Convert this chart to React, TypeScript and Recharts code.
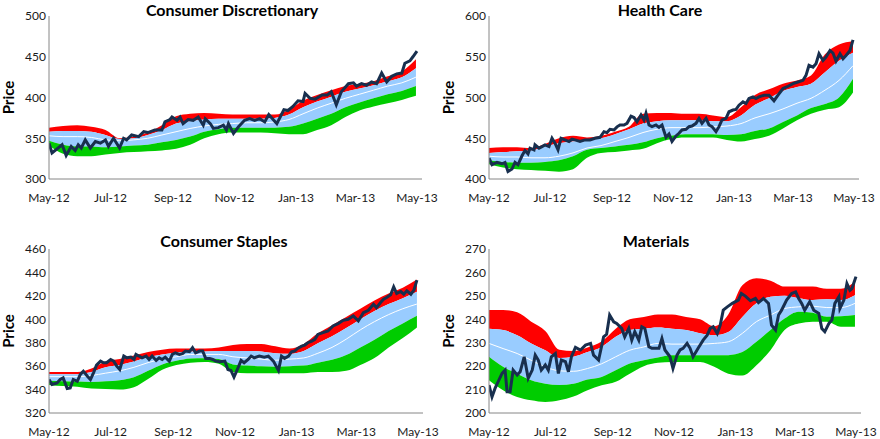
import { Area, ComposedChart, Line, XAxis, YAxis } from "recharts";

// x values are days counted from 1 May 2012
const bandDays = [0, 14, 28, 42, 56, 70, 84, 98, 112, 126, 140, 154, 168, 182, 196, 210, 224, 238, 252, 266, 280, 294, 308, 322, 336, 350, 364];
const tickDays = [0, 61, 123, 184, 245, 304, 365];
const tickLabels = ["May-12", "Jul-12", "Sep-12", "Nov-12", "Jan-13", "Mar-13", "May-13"];

// Consumer Discretionary
const cdUp2 = [363, 365, 366, 364, 360, 350, 352, 357, 366, 377, 380, 381, 380, 379, 379, 379, 379, 385, 396, 403, 409, 414, 417, 420, 426, 432, 447];
const cdUp1 = [358, 359, 359, 358, 354, 349, 350, 354, 360, 368, 371, 373, 374, 374, 374, 374, 375, 379, 388, 395, 401, 407, 411, 415, 420, 425, 436];
const cdMid = [353, 352, 352, 351, 348, 347, 348, 350, 354, 358, 362, 365, 367, 368, 369, 369, 370, 373, 380, 387, 393, 399, 404, 409, 414, 418, 425];
const cdLo1 = [347, 342, 340, 340, 339, 340, 341, 342, 345, 348, 352, 358, 361, 363, 363, 363, 363, 364, 368, 374, 380, 388, 394, 399, 404, 408, 414];
const cdLo2 = [341, 331, 328, 328, 330, 332, 333, 334, 335, 337, 342, 350, 355, 357, 357, 357, 356, 355, 355, 360, 366, 376, 384, 389, 393, 397, 402];
const cdPriceDays = [0, 3, 13, 17, 22, 26, 29, 32, 36, 41, 46, 51, 56, 59, 64, 70, 74, 77, 82, 89, 94, 98, 105, 112, 115, 120, 122, 127, 130, 133, 138, 143, 148, 153, 155, 160, 163, 168, 173, 176, 178, 183, 188, 194, 199, 204, 209, 214, 218, 223, 226, 233, 237, 242, 247, 252, 254, 259, 264, 271, 276, 280, 285, 290, 297, 302, 305, 310, 315, 320, 325, 330, 335, 340, 345, 350, 353, 358, 361, 365];
const cdPrice = [344, 332, 342, 329, 340, 335, 342, 338, 348, 338, 346, 344, 348, 340, 350, 338, 350, 348, 354, 352, 358, 357, 360, 360, 370, 373, 376, 372, 376, 368, 373, 372, 376, 366, 374, 368, 362, 363, 366, 360, 368, 356, 364, 372, 374, 372, 374, 370, 379, 372, 368, 385, 384, 389, 396, 395, 405, 399, 398, 403, 403, 407, 391, 407, 417, 418, 414, 417, 415, 419, 417, 430, 419, 426, 429, 430, 442, 445, 450, 457];

// Health Care
const hcUp2 = [438, 439, 439, 438, 443, 450, 453, 451, 453, 458, 464, 480, 481, 481, 480, 480, 478, 476, 488, 503, 510, 517, 521, 527, 553, 565, 569];
const hcUp1 = [432, 433, 434, 435, 440, 444, 446, 448, 450, 455, 461, 468, 471, 472, 472, 472, 471, 471, 478, 491, 499, 508, 513, 517, 531, 545, 555];
const hcMid = [428, 427, 427, 426, 426, 428, 432, 438, 441, 446, 451, 457, 461, 463, 463, 463, 464, 465, 468, 475, 480, 486, 493, 499, 509, 521, 539];
const hcLo1 = [423, 421, 420, 420, 421, 423, 428, 436, 438, 440, 442, 445, 450, 453, 455, 455, 455, 454, 455, 459, 462, 470, 478, 487, 492, 500, 523];
const hcLo2 = [418, 414, 412, 411, 410, 409, 412, 426, 432, 433, 435, 437, 444, 449, 451, 451, 451, 448, 446, 449, 453, 462, 472, 480, 485, 488, 506];
const hcPriceDays = [0, 3, 8, 13, 16, 19, 23, 26, 29, 33, 36, 39, 41, 45, 46, 50, 53, 56, 60, 63, 66, 69, 72, 76, 80, 83, 86, 91, 96, 101, 106, 111, 115, 118, 121, 125, 128, 131, 135, 138, 142, 145, 148, 152, 155, 157, 160, 163, 167, 170, 173, 177, 180, 183, 187, 190, 193, 197, 200, 203, 207, 210, 213, 217, 220, 223, 227, 230, 233, 237, 240, 244, 247, 250, 254, 257, 260, 264, 267, 270, 275, 280, 285, 289, 294, 299, 304, 309, 314, 317, 320, 324, 327, 330, 334, 337, 341, 344, 347, 351, 354, 357, 361, 364];
const hcPrice = [425.6, 417.5, 420.3, 418.7, 420.3, 409.3, 412.2, 420.3, 417.5, 428.5, 435, 430.9, 437.8, 435.8, 441.9, 437.8, 439.8, 441.9, 439.8, 450, 443.9, 435.8, 450, 448, 446, 448.8, 448, 446, 448, 448, 450, 451.2, 458, 456.9, 461, 460.2, 464, 466.3, 466.3, 468.3, 477, 475.4, 470.3, 478.5, 472.4, 480.5, 466.3, 464.2, 466.3, 463.4, 466.3, 451.2, 455.3, 446, 452.8, 456.1, 460.2, 461, 464.2, 465, 468.3, 474.4, 468.3, 474.4, 466.3, 464.2, 458, 464.2, 472.4, 474.4, 482.5, 484.6, 485.4, 490.6, 494.7, 492.7, 498.8, 500.8, 498.8, 500.8, 502.8, 502.8, 496, 502.8, 511, 513.8, 517, 519, 521.1, 527.2, 539.4, 537.3, 541.5, 553.7, 545.5, 549.6, 557.7, 554.5, 544.7, 553.7, 547.6, 551.6, 557.7, 570.7];

// Consumer Staples
const csUp2 = [355, 355, 355, 358, 364, 366, 369, 372, 374, 375, 375, 375, 376, 378, 379, 379, 377, 375, 379, 388, 395, 402, 409, 416, 422, 427, 434];
const csUp1 = [353, 353, 353, 355, 359, 361, 364, 367.5, 370, 371.5, 372.5, 372.5, 373, 373, 373, 372.5, 371, 370.5, 373, 379.5, 385.5, 392.5, 400, 407, 413, 418, 423.5];
const csMid = [351, 351, 351, 352, 354, 356, 359, 363, 366, 368, 370, 370, 370, 368, 367, 366, 365, 366, 367, 371, 376, 383, 391, 398, 404, 409, 413];
const csLo1 = [347.5, 347, 346.8, 346.5, 347, 348, 350.5, 356, 361.5, 364.5, 366.5, 366.8, 366, 361.5, 360.5, 360, 359.5, 360, 360.5, 363, 365.5, 369.5, 376, 382.5, 390, 396.5, 403];
const csLo2 = [344, 343, 342.5, 341, 340.5, 340, 342, 349, 357, 361, 363, 363.5, 362, 355, 354, 354, 354, 354, 354, 355, 355, 356, 361, 367, 376, 384, 393];
const csPriceDays = [0, 3, 8, 11, 14, 18, 21, 24, 28, 31, 34, 38, 41, 44, 47, 51, 54, 57, 61, 64, 67, 70, 74, 77, 81, 84, 86, 89, 92, 96, 99, 102, 106, 109, 112, 115, 119, 122, 125, 129, 132, 135, 139, 142, 145, 149, 152, 155, 159, 162, 165, 169, 174, 177, 180, 183, 187, 190, 193, 197, 200, 203, 208, 213, 217, 222, 227, 230, 233, 237, 240, 243, 246, 250, 253, 256, 260, 263, 266, 271, 276, 281, 286, 291, 296, 301, 306, 311, 316, 321, 324, 328, 331, 334, 338, 341, 344, 348, 351, 354, 358, 361, 364];
const csPrice = [348.6, 344.3, 345.7, 348.6, 350, 340.9, 341.4, 348.6, 347.1, 352.9, 355.7, 351.4, 348.6, 354.3, 360.9, 364.3, 362.9, 362.9, 365.7, 364.3, 360, 357.1, 368.6, 367.1, 367.7, 365.7, 370, 368.6, 367.1, 368.6, 365.7, 368.6, 364.9, 367.1, 365.7, 367.7, 364.3, 370, 371.4, 370, 370.6, 372.9, 372.3, 375.7, 371.4, 372.9, 372.9, 366.6, 366.6, 365.7, 364.3, 363.7, 364.3, 357.1, 356.3, 350.6, 358.6, 364.9, 362.9, 365.7, 368.6, 367.1, 368.6, 367.7, 368.6, 364.3, 356.3, 368.6, 366.6, 368.6, 372.3, 372.9, 375.1, 377.1, 378, 380, 381.4, 382.9, 387.1, 388.6, 390, 394.3, 396.3, 399.1, 400, 402.9, 398.6, 405.7, 407.7, 412.9, 410, 414.3, 417.1, 418.6, 420.9, 427.7, 422, 423.7, 421.4, 424.3, 421.4, 424.9, 433.4];

// Materials
const maUp2 = [244, 244, 243, 239, 235, 227, 226.5, 228, 230.5, 236, 240, 241, 242, 242, 241, 240, 237, 242, 254.5, 257.5, 256.5, 254, 254, 254, 253, 253, 256];
const maUp1 = [236, 235.4, 233.2, 229.7, 226.8, 223.5, 224, 226, 228.2, 232.5, 235.4, 236, 236.5, 236, 235.4, 234, 233.2, 234.6, 241, 246.8, 249.6, 250, 249, 248.2, 248.5, 248.2, 250.3];
const maMid = [229.7, 227.5, 225.4, 222.5, 219.7, 218, 217.8, 219, 221, 224, 226.8, 228.2, 229.7, 229.4, 229.4, 229.4, 229.7, 230.4, 234, 239, 241.8, 244.6, 245.3, 245.6, 245, 245, 246.8];
const maLo1 = [224, 219.7, 216.8, 214, 212.5, 212, 212.5, 214.3, 215.4, 218.2, 221.1, 222.5, 223.7, 224.7, 224.7, 224.7, 224.7, 224.7, 226, 230.4, 235.4, 240.3, 243.2, 242.8, 241.1, 241.3, 241.8];
const maLo2 = [214, 209.7, 206.8, 205.4, 204.7, 205.4, 207, 209.7, 211.8, 213.3, 216.8, 220, 221.4, 221.8, 221.8, 221.8, 219.7, 216.8, 216, 220.4, 226.8, 235.4, 238.2, 238.9, 238.9, 236.8, 236.8];
const maPriceDays = [0, 3, 6, 9, 13, 16, 18, 21, 24, 28, 31, 35, 39, 43, 46, 49, 52, 56, 59, 62, 66, 69, 72, 76, 79, 82, 86, 91, 96, 101, 104, 109, 114, 117, 120, 124, 127, 132, 135, 139, 142, 145, 149, 152, 155, 159, 162, 165, 169, 172, 175, 180, 183, 187, 190, 193, 197, 200, 203, 208, 213, 217, 220, 223, 227, 230, 233, 237, 242, 248, 251, 255, 260, 265, 268, 273, 278, 281, 285, 288, 291, 296, 301, 305, 308, 311, 314, 319, 323, 328, 331, 334, 338, 341, 344, 348, 349, 353, 356, 359, 361, 365];
const maPrice = [211.9, 206.9, 210.5, 213.3, 216.9, 218.3, 209.1, 209.1, 218.3, 216.2, 217.6, 224, 214.8, 218.3, 224.7, 222.6, 218.3, 220.5, 218.3, 224, 225.4, 216.9, 222.6, 221.9, 217.6, 224, 228, 226.9, 229, 229.7, 224.7, 222.6, 232.5, 233.6, 241.8, 238.9, 238.2, 236.1, 232.5, 236.1, 231.1, 234.7, 231.1, 236.8, 236.1, 228.3, 227.6, 227.6, 227.6, 231.8, 226.9, 224, 219, 224.7, 226.9, 227.6, 229.7, 227.6, 224, 227.6, 231.1, 233.2, 236.1, 236.8, 233.9, 237.5, 243.9, 245.3, 246.8, 248.2, 251, 249.9, 247.9, 248.9, 247.1, 248.9, 246.8, 237.5, 235.4, 241.8, 243.9, 248.2, 251, 251.7, 248.9, 246.8, 243.9, 247.5, 243.9, 242.5, 236.1, 234.7, 238.2, 239.7, 246.8, 249.6, 244.6, 248.2, 255.3, 252.4, 253.1, 258.2];

const panels = [
  { title: "Consumer Discretionary", x: 0, y: 0, h: 220, top: 16, right: 18, bottom: 21, titleX: 232, titleY: 4,
    yDomain: [300, 500], yTicks: [300, 350, 400, 450, 500],
    up2: cdUp2, up1: cdUp1, mid: cdMid, lo1: cdLo1, lo2: cdLo2, priceDays: cdPriceDays, price: cdPrice },
  { title: "Health Care", x: 440, y: 0, h: 220, top: 16, right: 21, bottom: 21, titleX: 220, titleY: 4,
    yDomain: [400, 600], yTicks: [400, 450, 500, 550, 600],
    up2: hcUp2, up1: hcUp1, mid: hcMid, lo1: hcLo1, lo2: hcLo2, priceDays: hcPriceDays, price: hcPrice },
  { title: "Consumer Staples", x: 0, y: 220, h: 219, top: 29, right: 17, bottom: 6, titleX: 224, titleY: 15,
    yDomain: [320, 460], yTicks: [320, 340, 360, 380, 400, 420, 440, 460],
    up2: csUp2, up1: csUp1, mid: csMid, lo1: csLo1, lo2: csLo2, priceDays: csPriceDays, price: csPrice },
  { title: "Materials", x: 440, y: 220, h: 219, top: 29, right: 19, bottom: 6, titleX: 216, titleY: 15,
    yDomain: [200, 270], yTicks: [200, 210, 220, 230, 240, 250, 260, 270],
    up2: maUp2, up1: maUp1, mid: maMid, lo1: maLo1, lo2: maLo2, priceDays: maPriceDays, price: maPrice },
];

const PriceLabel = ({ viewBox }: any) => (
  <text
    x={viewBox.x + 8}
    y={viewBox.y + viewBox.height / 2}
    transform={`rotate(-90 ${viewBox.x + 8} ${viewBox.y + viewBox.height / 2})`}
    textAnchor="middle"
    dominantBaseline="central"
    fontSize={15}
    fontWeight="bold"
    fill="#000"
  >
    Price
  </text>
);

function Panel({ p }: { p: (typeof panels)[number] }) {
  const bands = bandDays.map((day, i) => ({
    day,
    red: [p.up1[i], p.up2[i]],
    blue: [p.lo1[i], p.up1[i]],
    green: [p.lo2[i], p.lo1[i]],
    mid: p.mid[i],
  }));
  const priceRows = p.priceDays.map((day, i) => ({ day, price: p.price[i] }));

  return (
    <div style={{ position: "absolute", left: p.x, top: p.y, width: 440, height: p.h }}>
      <div
        style={{
          position: "absolute", left: p.titleX - 150, top: p.titleY, width: 300,
          textAlign: "center", fontWeight: "bold", fontSize: 16, lineHeight: "12px", color: "#000",
        }}
      >
        {p.title}
      </div>
      <ComposedChart width={440} height={p.h} margin={{ top: p.top, right: p.right, bottom: p.bottom, left: 0 }}>
        <XAxis
          type="number" dataKey="day" domain={[0, 370]} ticks={tickDays} interval={0} allowDataOverflow
          tickFormatter={(v) => tickLabels[tickDays.indexOf(v)]}
          tickLine={false} tickSize={0} tickMargin={14} height={20}
          axisLine={{ stroke: "#868686" }} tick={{ fill: "#1a1a1a", fontSize: 12 }}
        />
        <YAxis
          type="number" domain={p.yDomain} ticks={p.yTicks} interval={0} allowDataOverflow width={49}
          tickLine={false} tickSize={0} tickMargin={3}
          axisLine={{ stroke: "#868686" }} tick={{ fill: "#1a1a1a", fontSize: 12 }}
          label={<PriceLabel />}
        />
        <Area data={bands} dataKey="red" type="monotone" stroke="none" fill="#FF0000" fillOpacity={1} isAnimationActive={false} />
        <Area data={bands} dataKey="blue" type="monotone" stroke="none" fill="#99CCFF" fillOpacity={1} isAnimationActive={false} />
        <Area data={bands} dataKey="green" type="monotone" stroke="none" fill="#00CC00" fillOpacity={1} isAnimationActive={false} />
        <Line data={bands} dataKey="mid" type="monotone" stroke="#FFFFFF" strokeWidth={1} dot={false} isAnimationActive={false} />
        <Line data={priceRows} dataKey="price" type="linear" stroke="#182F4E" strokeWidth={3} dot={false} isAnimationActive={false} />
      </ComposedChart>
    </div>
  );
}

export default function App() {
  return (
    <div
      style={{
        position: "absolute", left: 0, top: 0, width: 880, height: 439,
        background: "#fff", fontFamily: "Lato, 'Open Sans', sans-serif", overflow: "hidden",
      }}
    >
      {panels.map((p) => (
        <Panel key={p.title} p={p} />
      ))}
    </div>
  );
}
